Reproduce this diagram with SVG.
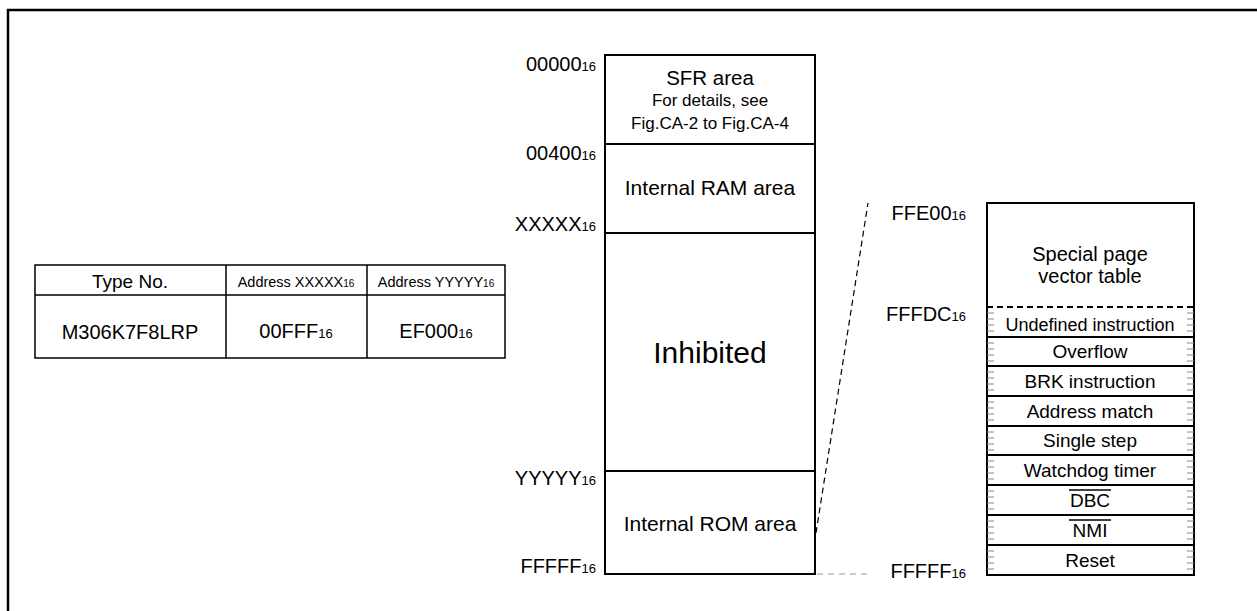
<svg xmlns="http://www.w3.org/2000/svg" width="1257" height="611" viewBox="0 0 1257 611">
<style>
text{font-family:"Liberation Sans",Arial,sans-serif;fill:#000}
.c{text-anchor:middle}
.r{text-anchor:end}
.lbl{font-size:20px}
.sub{font-size:13px}
.box{fill:#fff;stroke:#000;stroke-width:2}
.sep{stroke:#000;stroke-width:2}
.tick{stroke:#888;stroke-width:1}
.t{stroke:#000;stroke-width:1.5;fill:none}
</style>
<rect width="1257" height="611" fill="#fff"/>
<path d="M8,612 V10 H1258" fill="none" stroke="#000" stroke-width="2.5"/>

<g id="type-table">
<rect x="35" y="265" width="470" height="93" class="t"/>
<line x1="35" y1="295" x2="505" y2="295" class="t"/>
<line x1="226" y1="265" x2="226" y2="358" class="t"/>
<line x1="367" y1="265" x2="367" y2="358" class="t"/>
<text x="130" y="288" class="c" font-size="19">Type No.</text>
<text x="296" y="287" class="c" font-size="14.5">Address XXXXX<tspan font-size="10">16</tspan></text>
<text x="436" y="287" class="c" font-size="14.5">Address YYYYY<tspan font-size="10">16</tspan></text>
<text x="130" y="339" class="c" font-size="20">M306K7F8LRP</text>
<text x="296" y="338" class="c" font-size="20">00FFF<tspan font-size="13">16</tspan></text>
<text x="436" y="338" class="c" font-size="20">EF000<tspan font-size="13">16</tspan></text>
</g>

<g id="memory-map">
<rect x="605" y="55" width="210" height="519" class="box"/>
<line x1="605" y1="144" x2="815" y2="144" class="sep"/>
<line x1="605" y1="233" x2="815" y2="233" class="sep"/>
<line x1="605" y1="471" x2="815" y2="471" class="sep"/>
<g id="sfr"><text x="710" y="85" class="c" font-size="20.5">SFR area</text>
<text x="710" y="106" class="c" font-size="17">For details, see</text>
<text x="710" y="129" class="c" font-size="17">Fig.CA-2 to Fig.CA-4</text></g>
<g id="ram"><text x="710" y="195" class="c" font-size="21">Internal RAM area</text></g>
<g id="inhibited"><text x="710" y="363" class="c" font-size="30">Inhibited</text></g>
<g id="rom"><text x="710" y="531" class="c" font-size="21">Internal ROM area</text></g>
</g>

<g id="map-labels">
<text x="596" y="71" class="r lbl">00000<tspan class="sub">16</tspan></text>
<text x="596" y="160" class="r lbl">00400<tspan class="sub">16</tspan></text>
<text x="596" y="231" class="r lbl">XXXXX<tspan class="sub">16</tspan></text>
<text x="596" y="485" class="r lbl">YYYYY<tspan class="sub">16</tspan></text>
<text x="596" y="573" class="r lbl">FFFFF<tspan class="sub">16</tspan></text>
<text x="966" y="220" class="r lbl">FFE00<tspan class="sub">16</tspan></text>
<text x="966" y="321" class="r lbl">FFFDC<tspan class="sub">16</tspan></text>
<text x="966" y="578" class="r lbl">FFFFF<tspan class="sub">16</tspan></text>
</g>

<g id="connectors">
<line x1="816" y1="533" x2="868" y2="203" stroke="#000" stroke-width="1.2" stroke-dasharray="6,4"/>
<line x1="817" y1="574" x2="868" y2="574" stroke="#999" stroke-width="1.2" stroke-dasharray="6,5"/>
</g>

<g id="vector-table">
<rect x="987" y="203" width="207" height="372" class="box"/>
<line x1="987" y1="307" x2="1194" y2="307" stroke="#000" stroke-width="2" stroke-dasharray="6,4"/>
<g class="tick">
<path d="M987,313h7M987,319h7M987,325h7M987,331h7M1187,313h7M1187,319h7M1187,325h7M1187,331h7
M987,343h7M987,349h7M987,355h7M987,361h7M1187,343h7M1187,349h7M1187,355h7M1187,361h7
M987,372h7M987,378h7M987,384h7M987,390h7M1187,372h7M1187,378h7M1187,384h7M1187,390h7
M987,402h7M987,408h7M987,414h7M987,420h7M1187,402h7M1187,408h7M1187,414h7M1187,420h7
M987,432h7M987,438h7M987,444h7M987,450h7M1187,432h7M1187,438h7M1187,444h7M1187,450h7
M987,461h7M987,467h7M987,473h7M987,479h7M1187,461h7M1187,467h7M1187,473h7M1187,479h7
M987,491h7M987,497h7M987,503h7M987,509h7M1187,491h7M1187,497h7M1187,503h7M1187,509h7
M987,521h7M987,527h7M987,533h7M987,539h7M1187,521h7M1187,527h7M1187,533h7M1187,539h7
M987,551h7M987,557h7M987,563h7M987,569h7M1187,551h7M1187,557h7M1187,563h7M1187,569h7"/>
</g>
<g class="sep">
<line x1="987" y1="337" x2="1194" y2="337"/>
<line x1="987" y1="366" x2="1194" y2="366"/>
<line x1="987" y1="396" x2="1194" y2="396"/>
<line x1="987" y1="426" x2="1194" y2="426"/>
<line x1="987" y1="455" x2="1194" y2="455"/>
<line x1="987" y1="485" x2="1194" y2="485"/>
<line x1="987" y1="515" x2="1194" y2="515"/>
<line x1="987" y1="545" x2="1194" y2="545"/>
</g>
<g id="special-page"><text x="1090" y="261" class="c" font-size="20">Special page</text>
<text x="1090" y="283" class="c" font-size="20">vector table</text></g>
<g id="v-undef"><text x="1090" y="331" class="c" font-size="18">Undefined instruction</text></g>
<g id="v-overflow"><text x="1090" y="358" class="c" font-size="19">Overflow</text></g>
<g id="v-brk"><text x="1090" y="388" class="c" font-size="19">BRK instruction</text></g>
<g id="v-addr"><text x="1090" y="418" class="c" font-size="19">Address match</text></g>
<g id="v-step"><text x="1090" y="447" class="c" font-size="19">Single step</text></g>
<g id="v-wdt"><text x="1090" y="477" class="c" font-size="19">Watchdog timer</text></g>
<g id="v-dbc"><text x="1090" y="507" class="c" font-size="19">DBC</text>
<line x1="1069" y1="490" x2="1111" y2="490" stroke="#000" stroke-width="1.5"/></g>
<g id="v-nmi"><text x="1090" y="537" class="c" font-size="19">NMI</text>
<line x1="1069" y1="520" x2="1111" y2="520" stroke="#000" stroke-width="1.5"/></g>
<g id="v-reset"><text x="1090" y="567" class="c" font-size="19">Reset</text></g>
</g>
</svg>
